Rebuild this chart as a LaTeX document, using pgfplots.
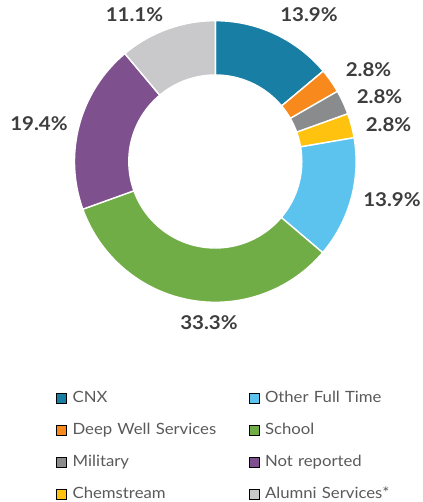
\documentclass[border=0pt]{standalone}
\usepackage{fontspec}
\setmainfont[FakeStretch=1.08]{Lato}
\usepackage{pgfplots}
\pgfplotsset{compat=1.18}
\definecolor{cnx}{HTML}{187EA4}
\definecolor{deepwell}{HTML}{F8891C}
\definecolor{military}{HTML}{8A8B8D}
\definecolor{chem}{HTML}{FFC20E}
\definecolor{otherft}{HTML}{5BC3EE}
\definecolor{school}{HTML}{71AD47}
\definecolor{notrep}{HTML}{7E518E}
\definecolor{alumni}{HTML}{C9C9CB}
\definecolor{lbltext}{HTML}{3D3D3D}
\definecolor{legtext}{HTML}{5A5A5A}
\tikzset{lbl/.style={font=\fontsize{19}{22}\selectfont\bfseries, text=lbltext, inner sep=0pt}}

% slice: colour, cumulative start (%), share (%)
\newcommand\slice[3]{%
  \addplot[fill=#1, draw=white, line width=1.4pt, domain=0:4, samples=321,
    variable=\t, forget plot]
  ({215.3+ringr(\t)*cos(ringang(\t,90-3.6*#2,90-3.6*(#2+#3)))},
   {340.5+ringr(\t)*sin(ringang(\t,90-3.6*#2,90-3.6*(#2+#3)))});}

\begin{document}
\begin{tikzpicture}
\begin{axis}[
  width=422pt, height=502pt, scale only axis,
  xmin=0, xmax=422, ymin=0, ymax=502,
  hide axis, clip=false,
  declare function={
    ringang(\t,\a,\b)=\a+(\b-\a)*ifthenelse(\t<=1,\t,ifthenelse(\t<=2,1,ifthenelse(\t<=3,3-\t,0)));
    ringr(\t)=ifthenelse(\t<=1,140.8,ifthenelse(\t<=2,140.8-54.3*(\t-1),ifthenelse(\t<=3,86.5,86.5+54.3*(\t-3))));
  },
  legend image code/.code={\fill[#1] (0pt,-5pt) rectangle (10pt,5pt);},
  legend columns=2,
  legend cell align=left,
  legend style={at={(axis cs:56,111)}, anchor=north west, draw=none, fill=none,
    inner sep=0pt, row sep=18pt, text=legtext,
    font=\fontsize{15.5}{18}\selectfont,
    nodes={text width=170pt, inner xsep=6pt, inner ysep=0pt, text height=11pt, text depth=3pt}},
]
\slice{cnx}{0}{13.9}
\slice{deepwell}{13.9}{2.8}
\slice{military}{16.7}{2.8}
\slice{chem}{19.5}{2.8}
\slice{otherft}{22.3}{13.9}
\slice{school}{36.2}{33.3}
\slice{notrep}{69.5}{19.4}
\slice{alumni}{88.9}{11.1}

\node[lbl] at (axis cs:309,487) {13.9\%};
\node[lbl] at (axis cs:368.5,432) {2.8\%};
\node[lbl] at (axis cs:379.5,405) {2.8\%};
\node[lbl] at (axis cs:388.5,377) {2.8\%};
\node[lbl] at (axis cs:392,302) {13.9\%};
\node[lbl] at (axis cs:209,179.5) {33.3\%};
\node[lbl] at (axis cs:39,378) {19.4\%};
\node[lbl] at (axis cs:134.5,487) {11.1\%};

\addlegendimage{fill=cnx}\addlegendentry{CNX}
\addlegendimage{fill=otherft}\addlegendentry{Other Full Time}
\addlegendimage{fill=deepwell}\addlegendentry{Deep Well Services}
\addlegendimage{fill=school}\addlegendentry{School}
\addlegendimage{fill=military}\addlegendentry{Military}
\addlegendimage{fill=notrep}\addlegendentry{Not reported}
\addlegendimage{fill=chem}\addlegendentry{Chemstream}
\addlegendimage{fill=alumni}\addlegendentry{Alumni Services*}
\end{axis}
\pgfresetboundingbox
\path (current axis.south west) rectangle (current axis.north east);
\end{tikzpicture}
\end{document}
